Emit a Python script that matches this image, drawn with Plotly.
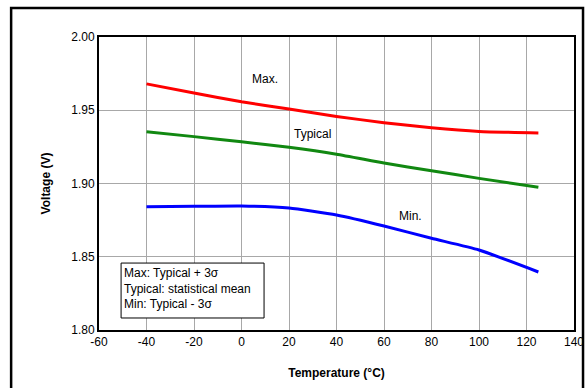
import plotly.graph_objects as go

temps = [-40, -20, 0, 20, 40, 60, 80, 100, 125]
v_max = [1.968, 1.9618, 1.9558, 1.9508, 1.9458, 1.9415, 1.938, 1.9355, 1.9345]
v_typ = [1.9353, 1.932, 1.9285, 1.9247, 1.920, 1.914, 1.9087, 1.9035, 1.8974]
v_min = [1.8842, 1.8844, 1.8846, 1.8833, 1.8785, 1.871, 1.8626, 1.8546, 1.8396]

series_names = ["Max.", "Typical", "Min."]
series_colors = ["#ff0000", "#118811", "#0000ff"]
label_pos = [(10, 1.971), (30, 1.9335), (71, 1.8775)]

x_ticks = [-60, -40, -20, 0, 20, 40, 60, 80, 100, 120, 140]
y_ticks = [1.80, 1.85, 1.90, 1.95, 2.00]

note_text = "Max: Typical + 3σ<br>Typical: statistical mean<br>Min: Typical - 3σ"

FONT = "Liberation Sans, Arial, sans-serif"

fig = go.Figure()
for name, ys, col in zip(series_names, [v_max, v_typ, v_min], series_colors):
    fig.add_trace(go.Scatter(x=temps, y=ys, mode="lines", name=name,
                             line=dict(color=col, width=3, shape="spline", smoothing=0.5)))

for name, (lx, ly) in zip(series_names, label_pos):
    fig.add_annotation(x=lx, y=ly, text=name, showarrow=False,
                       font=dict(family=FONT, size=12, color="#000"))

# note box
fig.add_shape(type="rect", x0=-50.7, x1=9.5, y0=1.8082, y1=1.8457,
              line=dict(color="#000", width=1), fillcolor="white", layer="above")
fig.add_annotation(x=-50.3, y=1.8452, xanchor="left", yanchor="top", align="left",
                   text=note_text, showarrow=False,
                   font=dict(family=FONT, size=12, color="#000"))

# outer frame
fig.add_shape(type="rect", xref="paper", yref="paper",
              x0=-0.185, x1=1.019, y0=-0.26, y1=1.099,
              line=dict(color="#000", width=2.5))

fig.update_layout(
    width=586, height=388,
    margin=dict(l=99, r=12, t=37, b=58, autoexpand=False),
    paper_bgcolor="white", plot_bgcolor="white",
    showlegend=False,
    font=dict(family=FONT, size=12, color="#000"),
    xaxis=dict(range=[-60, 140], tickvals=x_ticks, ticktext=[str(t) for t in x_ticks],
               showgrid=True, gridcolor="#a8a8a8", gridwidth=1,
               showline=True, linecolor="#000", linewidth=2, mirror=True,
               ticks="", zeroline=False, automargin=False,
               title=dict(text="<b>Temperature (°C)</b>", font=dict(size=12), standoff=20)),
    yaxis=dict(range=[1.80, 2.00], tickvals=y_ticks, ticktext=[f"{t:.2f}" for t in y_ticks],
               showgrid=True, gridcolor="#a8a8a8", gridwidth=1,
               showline=True, linecolor="#000", linewidth=2, mirror=True,
               ticks="", zeroline=False, automargin=False,
               title=dict(text="<b>Voltage (V)</b>", font=dict(size=12), standoff=18)),
)

fig.write_html("out.html",
               config={"displayModeBar": False},
               post_script="document.body.style.margin='0';document.body.style.overflow='hidden';"
                           "document.documentElement.style.overflow='hidden';")
